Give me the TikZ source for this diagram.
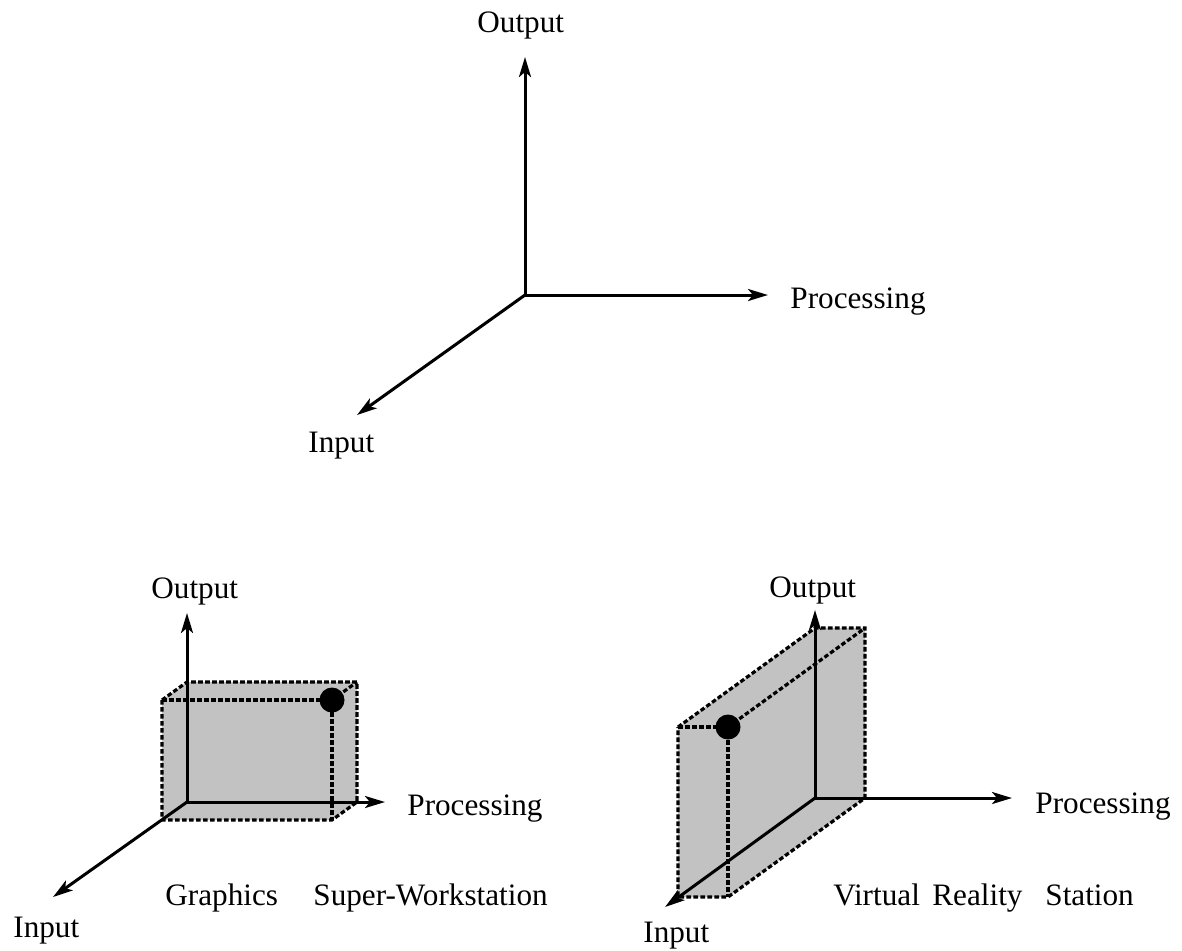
\documentclass[tikz,border=0pt]{standalone}
\usepackage{fontspec}
\setmainfont{Liberation Serif}
\usetikzlibrary{arrows.meta}
\begin{document}
\begin{tikzpicture}[x=0.5pt,y=-0.5pt,
  axis/.style={line width=1.5pt,-{Stealth[length=10pt,width=6pt,inset=2.5pt]}},
  lbl/.style={font=\fontsize{15.6}{18}\selectfont,inner sep=0pt,anchor=base west},
  boxfill/.style={fill=black!24,draw=none},
  boxedge/.style={line width=1.6pt,dash pattern=on 2.3pt off 1.2pt},
  dotstyle/.style={circle,fill=black,minimum size=12.5pt,inner sep=0pt}]
\useasboundingbox (0,0) rectangle (1182,950);

% ---------- top axes ----------
\coordinate (T0) at (525,295);
\coordinate (Tout) at (525,57);
\coordinate (Tpro) at (768,295);
\coordinate (Tin) at (357,415);
\draw[axis] (T0) -- (Tout);
\draw[axis] (T0) -- (Tpro);
\draw[axis] (T0) -- (Tin);
\node[lbl] (ToutL) at (477,32) {Output};
\node[lbl] (TproL) at (790,308) {Processing};
\node[lbl] (TinL) at (308,452) {Input};

% ---------- bottom-left: Graphics Super-Workstation ----------
\coordinate (L0) at (187,802);
\coordinate (Lout) at (187,613);
\coordinate (Lpro) at (385,802);
\coordinate (Lin) at (53,897);
% box corners
\coordinate (La) at (162,700);
\coordinate (Lb) at (187,682);
\coordinate (Lc) at (357,682);
\coordinate (Ld) at (357,802);
\coordinate (Le) at (332,820);
\coordinate (Lf) at (162,820);
\coordinate (Lg) at (332,700);
\fill[boxfill] (La) -- (Lb) -- (Lc) -- (Ld) -- (Le) -- (Lf) -- cycle;
\draw[boxedge] (La) -- (Lb) -- (Lc) -- (Ld) -- (Le) -- (Lf) -- cycle;
\draw[boxedge] (La) -- (Lg) -- (Le);
\draw[boxedge] (Lg) -- (Lc);
\draw[axis] (L0) -- (Lout);
\draw[axis] (L0) -- (Lpro);
\draw[axis] (L0) -- (Lin);
\node[dotstyle] (Ldot) at (Lg) {};
\node[lbl] (LoutL) at (151,598) {Output};
\node[lbl] (LproL) at (407,815) {Processing};
\node[lbl] (LinL) at (13,937) {Input};
\node[lbl] (LgrL) at (165,905) {Graphics};
\node[lbl] (LswL) at (313,905) {Super-Workstation};

% ---------- bottom-right: Virtual Reality Station ----------
\coordinate (R0) at (815,798);
\coordinate (Rout) at (815,610);
\coordinate (Rpro) at (1012,798);
\coordinate (Rin) at (665,907);
\coordinate (Ra) at (678,727);
\coordinate (Rb) at (815,628);
\coordinate (Rc) at (865,628);
\coordinate (Rd) at (865,798);
\coordinate (Re) at (728,897);
\coordinate (Rf) at (678,897);
\coordinate (Rg) at (728,727);
\fill[boxfill] (Ra) -- (Rb) -- (Rc) -- (Rd) -- (Re) -- (Rf) -- cycle;
\draw[boxedge] (Ra) -- (Rb) -- (Rc) -- (Rd) -- (Re) -- (Rf) -- cycle;
\draw[boxedge] (Ra) -- (Rg) -- (Re);
\draw[boxedge] (Rg) -- (Rc);
\draw[axis] (R0) -- (Rout);
\draw[axis] (R0) -- (Rpro);
\draw[axis] (R0) -- (Rin);
\node[dotstyle] (Rdot) at (Rg) {};
\node[lbl] (RoutL) at (769,597) {Output};
\node[lbl] (RproL) at (1035,813) {Processing};
\node[lbl] (RinL) at (643,942) {Input};
\node[lbl] (RvL) at (833,905) {Virtual};
\node[lbl] (RrL) at (932,905) {Reality};
\node[lbl] (RsL) at (1045,905) {Station};
\end{tikzpicture}
\end{document}
